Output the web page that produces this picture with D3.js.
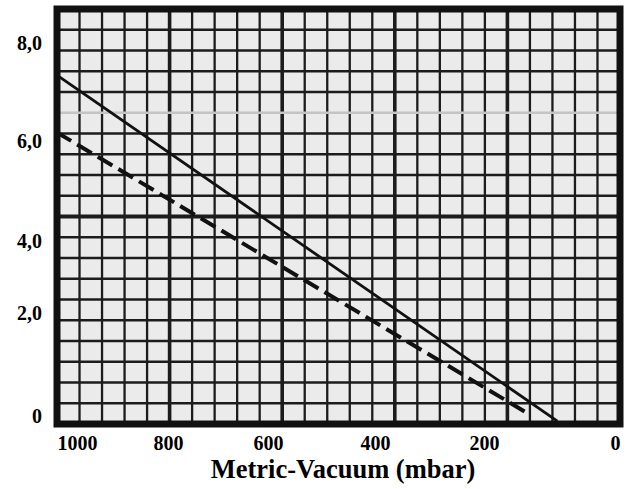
<!DOCTYPE html>
<html>
<head>
<meta charset="utf-8">
<script src="https://cdn.jsdelivr.net/npm/d3@7"></script>
<style>
  body { margin: 0; background: #fff; }
  #viz text { font-family: "Liberation Serif", "Times New Roman", serif; font-weight: bold; fill: #000; }
</style>
</head>
<body>
<svg id="viz" width="629" height="489"></svg>
<script>
// values
var xTicks = [1000, 800, 600, 400, 200, 0];
var xTickLabels = ["1000", "800", "600", "400", "200", "0"];
var yTicks = [8, 6, 4, 2, 0];
var yTickLabels = ["8,0", "6,0", "4,0", "2,0", "0"];

// solid line (vacuum in mbar, value)
var solidVacuum = [1045, 88];
var solidValue = [7.35, -0.1];
// dashed line
var dashedVacuum = [1045, 137];
var dashedValue = [6.18, 0.08];

var box = {left: 57, top: 9, right: 620, bottom: 424};

// the paper scale is not even, so the ticks are pinned where they sit
var x = d3.scaleLinear().domain(xTicks).range([77, 168, 268, 375, 484, 615]);
var y = d3.scaleLinear().domain(yTicks).range([43, 141, 241, 313, 416]);

var svg = d3.select('#viz');

svg.append('rect')
  .attr('x', box.left).attr('y', box.top)
  .attr('width', box.right - box.left).attr('height', box.bottom - box.top)
  .style('fill', '#ebebeb');

// graph paper grid: 25 columns, 20 rows
var gx = d3.scaleLinear().domain([0, 25]).range([box.left, box.right]);
var gy = d3.scaleLinear().domain([0, 20]).range([box.top, box.bottom]);

svg.append('g').selectAll('line')
  .data(d3.range(1, 25))
  .enter().append('line')
  .attr('x1', function(d) { return gx(d); })
  .attr('x2', function(d) { return gx(d); })
  .attr('y1', box.top).attr('y2', box.bottom)
  .style('stroke', '#1c1c1c')
  .style('stroke-width', function(d) { return d % 5 === 0 ? 3.6 : 2.3; });

svg.append('g').selectAll('line')
  .data(d3.range(1, 20))
  .enter().append('line')
  .attr('y1', function(d) { return gy(d); })
  .attr('y2', function(d) { return gy(d); })
  .attr('x1', box.left).attr('x2', box.right)
  .style('stroke', function(d) { return d === 5 ? '#c4c4c4' : '#1c1c1c'; })
  .style('stroke-width', function(d) { return d === 10 ? 3.8 : 2.3; });

var line = d3.line()
  .x(function(d) { return x(d[0]); })
  .y(function(d) { return y(d[1]); });

svg.append('path')
  .datum(d3.zip(solidVacuum, solidValue))
  .attr('d', line)
  .style('fill', 'none')
  .style('stroke', '#111')
  .style('stroke-width', 2.8);

svg.append('path')
  .datum(d3.zip(dashedVacuum, dashedValue))
  .attr('d', line)
  .style('fill', 'none')
  .style('stroke', '#111')
  .style('stroke-width', 4)
  .style('stroke-dasharray', '17,7');

// heavy frame
svg.append('rect')
  .attr('x', box.left).attr('y', box.top)
  .attr('width', box.right - box.left).attr('height', box.bottom - box.top)
  .style('fill', 'none')
  .style('stroke', '#111')
  .style('stroke-width', 7);

var xAxis = d3.axisBottom(x)
  .tickValues(xTicks)
  .tickFormat(function(d, i) { return xTickLabels[i]; })
  .tickSize(0)
  .tickPadding(12);

var yAxis = d3.axisLeft(y)
  .tickValues(yTicks)
  .tickFormat(function(d, i) { return yTickLabels[i]; })
  .tickSize(0)
  .tickPadding(15);

var gX = svg.append('g').attr('transform', 'translate(0,' + box.bottom + ')').call(xAxis);
var gY = svg.append('g').attr('transform', 'translate(' + box.left + ',0)').call(yAxis);
[gX, gY].forEach(function(g) {
  g.attr('font-family', null).attr('font-size', null);
  g.select('.domain').remove();
  g.selectAll('text').style('font-size', '20px');
});

svg.append('text')
  .attr('x', 343).attr('y', 478)
  .attr('text-anchor', 'middle')
  .style('font-size', '26.5px')
  .text('Metric-Vacuum (mbar)');
</script>
</body>
</html>
